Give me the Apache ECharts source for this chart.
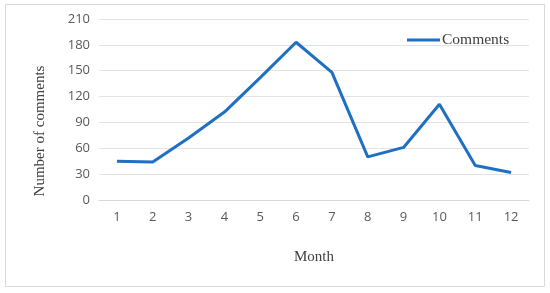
<!DOCTYPE html>
<html>
<head>
<meta charset="utf-8">
<script src="https://cdn.jsdelivr.net/npm/echarts@6/dist/echarts.min.js"></script>
<style>
  html, body { margin: 0; padding: 0; background: #fff; }
  #chart { width: 550px; height: 293px; }
</style>
</head>
<body>
<div id="chart"></div>
<script>
// data
var months = ['1', '2', '3', '4', '5', '6', '7', '8', '9', '10', '11', '12'];
var comments = [45, 44, 72, 102, 142, 183, 148, 50, 61, 111, 40, 32];
var yTicks = { min: 0, max: 210, interval: 30 };

var chart = echarts.init(document.getElementById('chart'));
chart.setOption({
  animation: false,
  graphic: [{
    type: 'rect',
    shape: { x: 5.5, y: 4.5, width: 539, height: 282 },
    style: { fill: 'none', stroke: '#d9d9d9', lineWidth: 1 }
  }, {
    // y axis title sits centred on the whole frame, not on the grid
    type: 'text',
    x: 40,
    y: 131,
    rotation: Math.PI / 2,
    style: {
      text: 'Number of comments',
      fontFamily: 'Liberation Serif',
      fontSize: 15,
      fill: '#404040',
      align: 'center',
      verticalAlign: 'middle'
    }
  }],
  legend: {
    data: ['Comments'],
    left: 407,
    top: 32,
    padding: 0,
    itemWidth: 33,
    itemHeight: 3,
    itemGap: 4,
    icon: 'rect',
    textStyle: { fontFamily: 'Liberation Serif', fontSize: 15.5, color: '#404040', padding: [0, 0, 0, -3] }
  },
  grid: { left: 99, right: 21, top: 19, bottom: 93 },
  xAxis: {
    type: 'category',
    data: months,
    boundaryGap: true,
    name: 'Month',
    nameLocation: 'middle',
    nameGap: 50,
    nameTextStyle: { fontFamily: 'Liberation Serif', fontSize: 15, color: '#404040' },
    axisLine: { lineStyle: { color: '#d9d9d9' } },
    axisTick: { show: false },
    axisLabel: { margin: 11, fontFamily: 'Open Sans', fontSize: 13, color: '#595959' }
  },
  yAxis: {
    type: 'value',
    min: yTicks.min,
    max: yTicks.max,
    interval: yTicks.interval,
    axisLine: { show: false },
    axisTick: { show: false },
    splitLine: { lineStyle: { color: '#e3e3e3' } },
    axisLabel: { margin: 9, fontFamily: 'Open Sans', fontSize: 13, color: '#595959' }
  },
  series: [{
    name: 'Comments',
    type: 'line',
    data: comments,
    symbol: 'none',
    lineStyle: { color: '#1f6fc3', width: 3 },
    itemStyle: { color: '#1f6fc3' }
  }]
});
</script>
</body>
</html>
